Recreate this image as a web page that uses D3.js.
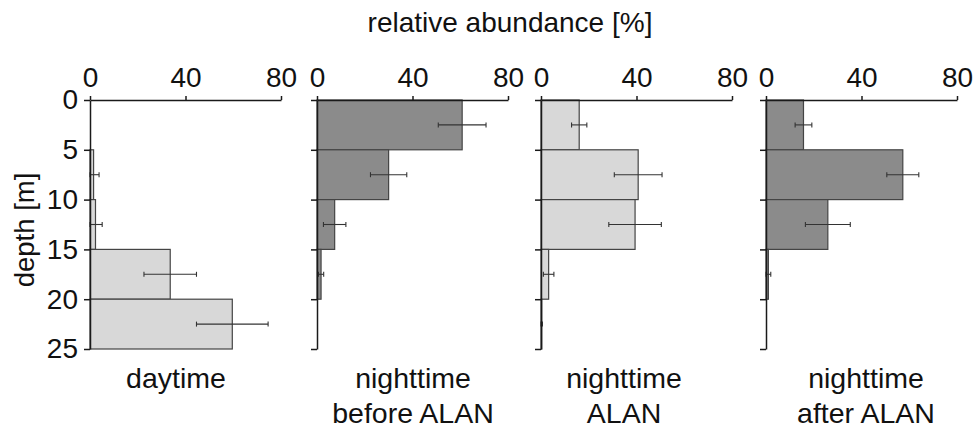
<!DOCTYPE html>
<html>
<head>
<meta charset="utf-8">
<script src="https://cdn.jsdelivr.net/npm/d3@7"></script>
<style>
  body { margin: 0; background: #fff; }
  text { font-family: "Liberation Sans", Arial, sans-serif; fill: #111; }
</style>
</head>
<body>
<div id="chart"></div>
<script>
const width = 975;
const height = 428;

// depth bins (upper edge of each 5 m layer)
const depthBins = [0, 5, 10, 15, 20];
const depthTicks = [0, 5, 10, 15, 20, 25];
const abundanceTicks = [0, 40, 80];

const daytime = [0, 1.5, 2.3, 33.6, 59.6];
const daytimeErr = [0, 2.3, 2.8, 11, 15];
const nightBefore = [60.8, 30, 7.4, 1.7, 0];
const nightBeforeErr = [10, 7.6, 4.7, 1.1, 0];
const nightAlan = [16, 40.7, 39.4, 3.2, 0.3];
const nightAlanErr = [3.2, 10, 11, 2.2, 0.3];
const nightAfter = [15.7, 57.3, 25.9, 1, 0];
const nightAfterErr = [3.5, 6.7, 9.4, 1, 0];

const panelLabels = [
    ["daytime"],
    ["nighttime", "before ALAN"],
    ["nighttime", "ALAN"],
    ["nighttime", "after ALAN"]
];

const panels = [
    { values: daytime, errs: daytimeErr, color: "#d8d8d8", left: 90, labelX: 176 },
    { values: nightBefore, errs: nightBeforeErr, color: "#8b8b8b", left: 317, labelX: 413 },
    { values: nightAlan, errs: nightAlanErr, color: "#d8d8d8", left: 541, labelX: 624 },
    { values: nightAfter, errs: nightAfterErr, color: "#8b8b8b", left: 766, labelX: 866 }
];

const svg = d3.select("#chart")
    .append("svg")
    .attr("width", width)
    .attr("height", height);

const x = d3.scaleLinear().domain([0, 80]).range([0, 191]);
const y = d3.scaleLinear().domain([0, 25]).range([100, 349]);

svg.append("text")
    .attr("x", 510)
    .attr("y", 32)
    .attr("text-anchor", "middle")
    .style("font-size", "28px")
    .text("relative abundance [%]");

svg.append("text")
    .attr("transform", "rotate(-90)")
    .attr("x", -230)
    .attr("y", 34)
    .attr("text-anchor", "middle")
    .style("font-size", "27.5px")
    .text("depth [m]");

panels.forEach((p, i) => {
    const g = svg.append("g")
        .attr("transform", `translate(${p.left},0)`);

    const rows = depthBins.map((d, j) => ({ depth: d, v: p.values[j], e: p.errs[j] }));

    g.selectAll("rect.bar")
        .data(rows.filter(d => d.v > 0))
        .enter()
        .append("rect")
        .attr("class", "bar")
        .attr("x", x(0))
        .attr("y", d => y(d.depth))
        .attr("width", d => x(d.v) - x(0))
        .attr("height", d => y(d.depth + 5) - y(d.depth))
        .attr("fill", p.color)
        .attr("stroke", "#444")
        .attr("stroke-width", 1.2);

    const errRows = rows.filter(d => d.e > 0);
    const cy = d => y(d.depth + 2.5);

    g.selectAll("line.err")
        .data(errRows)
        .enter()
        .append("line")
        .attr("class", "err")
        .attr("x1", d => x(Math.max(0, d.v - d.e)))
        .attr("x2", d => x(d.v + d.e))
        .attr("y1", cy)
        .attr("y2", cy)
        .attr("stroke", "#333")
        .attr("stroke-width", 1.1);

    g.selectAll("line.capL")
        .data(errRows)
        .enter()
        .append("line")
        .attr("x1", d => x(Math.max(0, d.v - d.e)))
        .attr("x2", d => x(Math.max(0, d.v - d.e)))
        .attr("y1", d => cy(d) - 2.5)
        .attr("y2", d => cy(d) + 2.5)
        .attr("stroke", "#333")
        .attr("stroke-width", 1.1);

    g.selectAll("line.capR")
        .data(errRows)
        .enter()
        .append("line")
        .attr("x1", d => x(d.v + d.e))
        .attr("x2", d => x(d.v + d.e))
        .attr("y1", d => cy(d) - 2.5)
        .attr("y2", d => cy(d) + 2.5)
        .attr("stroke", "#333")
        .attr("stroke-width", 1.1);

    const topAxis = g.append("g")
        .attr("transform", `translate(0,${y(0)})`)
        .call(d3.axisTop(x).tickValues(abundanceTicks).tickSize(4).tickSizeOuter(0).tickPadding(9));

    const leftAxis = g.append("g")
        .call(d3.axisLeft(y).tickValues(depthTicks).tickSize(6).tickSizeOuter(0).tickPadding(6)
            .tickFormat(i === 0 ? d3.format("d") : () => ""));

    [topAxis, leftAxis].forEach(ax => {
        ax.selectAll("path, line").attr("stroke", "#1a1a1a").attr("stroke-width", 1.5);
        ax.selectAll("text")
            .style("font-size", "28px")
            .style("font-family", "'Liberation Sans', Arial, sans-serif")
            .attr("fill", "#111");
    });

    const label = svg.append("text")
        .attr("text-anchor", "middle")
        .style("font-size", "28.5px");

    panelLabels[i].forEach((t, k) => {
        label.append("tspan")
            .attr("x", p.labelX)
            .attr("y", 388 + k * 35)
            .text(t);
    });
});
</script>
</body>
</html>
